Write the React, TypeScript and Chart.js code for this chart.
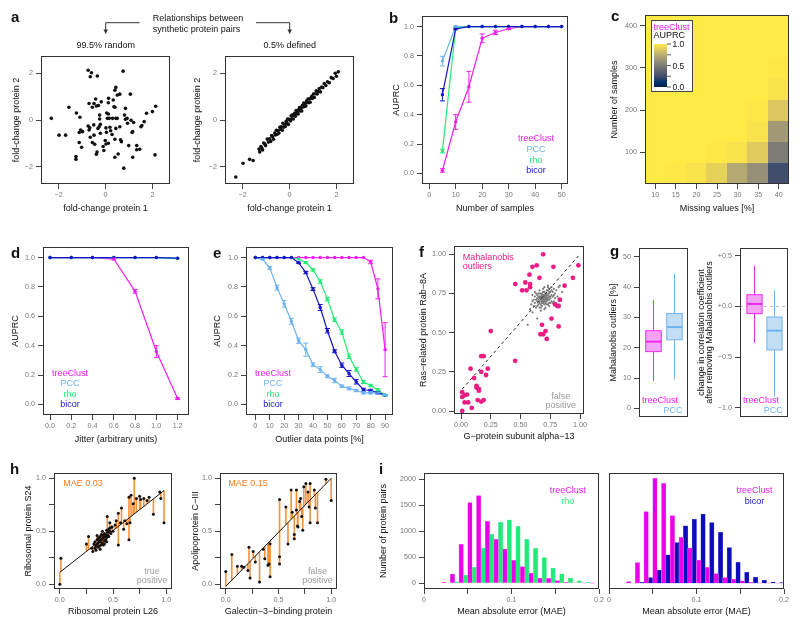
import React, { useEffect, useRef } from "react";
import { Chart, registerables } from "chart.js";
Chart.register(...registerables);

// ---------------- data ----------------
const aRandom: number[][] = [
  [-0.74, 2.14], [-0.6, 2.03], [-0.65, 1.86], [-0.35, 1.89], [0.75, 2.1], [-2.31, 0.07], [-1.98, -0.65], [-1.7, -0.65],
  [-1.56, 0.55], [-1.24, 0.3], [-1.09, 0.12], [-1.26, -1.57], [-1.26, -1.69], [-1.12, -0.97], [-1.02, -1.17], [-1.12, -0.54],
  [-1.06, -0.43], [-0.98, -0.5], [-0.74, -0.26], [-0.7, -0.43], [-0.65, -0.74], [-0.67, -0.33], [-0.7, 0.71], [-0.56, 0.55],
  [-0.49, 0.71], [-0.42, 0.9], [-0.39, 0.6], [-0.5, -0.21], [-0.49, -0.65], [-0.56, -0.97], [-0.46, -1.04], [-0.36, -1.38],
  [-0.39, -1.47], [-0.32, -0.36], [-0.27, -0.29], [-0.22, -0.19], [-0.25, 0.04], [-0.22, -0.57], [-0.25, 0.21], [-0.18, 0.78],
  [-0.1, -1.14], [-0.07, -1.31], [0.02, -1.03], [-0.01, -0.88], [0.04, -0.53], [0.02, -0.34], [0.08, 0.07], [0.12, 0.26],
  [0.16, 0.07], [0.19, -0.31], [0.22, -0.46], [0.13, 0.93], [0.12, 0.74], [0.3, 0.07], [0.33, 0.86], [0.4, 0.55],
  [0.44, 0.07], [0.5, 0.07], [0.4, -0.83], [0.44, -0.36], [0.5, 1.07], [0.4, 1.28], [0.44, 1.4], [0.61, 1.11],
  [0.36, 0.57], [0.61, -0.29], [0.64, -0.85], [0.68, -0.93], [0.4, -1.6], [0.54, -1.46], [0.78, -2.07], [0.12, -1.0],
  [0.85, 0.5], [0.81, 0.21], [0.85, 0.03], [0.92, 0.07], [0.94, -0.14], [0.99, -1.1], [1.06, 1.11], [1.09, -0.01],
  [1.13, -0.54], [1.16, -1.6], [1.2, -0.11], [1.33, -1.1], [1.33, -1.28], [1.51, -0.29], [1.55, -0.24], [1.46, -1.26],
  [1.65, -0.07], [1.75, 0.29], [2.0, 0.36], [2.14, 0.59], [2.11, -1.5], [1.16, -0.5], [-0.3, 0.62], [0.28, -0.62], [0.05, 0.3],
];
const aDefined: number[][] = [
  [-2.29, -2.45], [-1.98, -1.86], [-1.7, -1.69], [-1.55, -1.74], [-1.3, -1.25], [-1.27, -1.37], [-1.22, -1.14], [-1.18, -1.21],
  [-1.15, -1.29], [-1.1, -0.99], [-1.05, -1.03], [-1.02, -1.1], [-0.95, -0.82], [-0.9, -0.95], [-0.85, -0.81], [-0.8, -0.92],
  [-0.76, -0.67], [-0.72, -0.72], [-0.68, -0.83], [-0.63, -0.56], [-0.6, -0.64], [-0.56, -0.44], [-0.52, -0.61], [-0.48, -0.45],
  [-0.45, -0.56], [-0.41, -0.31], [-0.38, -0.4], [-0.35, -0.29], [-0.31, -0.44], [-0.28, -0.14], [-0.25, -0.31], [-0.21, -0.2],
  [-0.18, -0.28], [-0.14, -0.06], [-0.11, -0.14], [-0.08, 0.04], [-0.05, -0.19], [-0.02, 0.03], [0.01, 0.01], [0.04, -0.04],
  [0.07, 0.18], [0.1, 0.05], [0.13, 0.22], [0.16, 0.04], [0.19, 0.21], [0.22, 0.29], [0.25, 0.16], [0.28, 0.41],
  [0.31, 0.27], [0.34, 0.34], [0.37, 0.26], [0.4, 0.46], [0.43, 0.53], [0.46, 0.39], [0.49, 0.52], [0.52, 0.39],
  [0.55, 0.63], [0.58, 0.56], [0.61, 0.73], [0.64, 0.58], [0.67, 0.71], [0.7, 0.6], [0.73, 0.82], [0.76, 0.75],
  [0.79, 0.9], [0.82, 0.74], [0.85, 0.9], [0.88, 0.76], [0.91, 0.93], [0.95, 1.02], [0.98, 0.93], [1.02, 1.12],
  [1.06, 0.97], [1.1, 1.13], [1.14, 1.26], [1.18, 1.12], [1.22, 1.22], [1.27, 1.35], [1.32, 1.21], [1.37, 1.42],
  [1.42, 1.39], [1.48, 1.57], [1.55, 1.48], [1.62, 1.64], [1.7, 1.6], [1.78, 1.82], [1.86, 1.78], [1.95, 2.01],
  [2.0, 1.88], [2.08, 2.07],
];

const xB = [5, 10, 15, 20, 25, 30, 35, 40, 45, 50];
const treeB = [0.02, 0.35, 0.59, 0.92, 0.96, 0.985, 1, 1, 1, 1];
const treeBErr = [0.012, 0.05, 0.105, 0.03, 0.015, 0.005, 0, 0, 0, 0];
const pccB = [0.765, 1, 1, 1, 1, 1, 1, 1, 1, 1];
const pccBErr = [0.033, 0.004, 0, 0, 0, 0, 0, 0, 0, 0];
const rhoB = [0.152, 0.99, 1, 1, 1, 1, 1, 1, 1, 1];
const rhoBErr = [0.012, 0, 0, 0, 0, 0, 0, 0, 0, 0];
const bicorB = [0.536, 0.984, 1, 1, 1, 1, 1, 1, 1, 1];
const bicorBErr = [0.042, 0.005, 0, 0, 0, 0, 0, 0, 0, 0];

const heatCols = [10, 15, 20, 25, 30, 35, 40];
const heatRows = [50, 100, 150, 200, 250, 300, 350, 400];
const heatVals = [
  [1.0, 0.99, 0.97, 0.9, 0.72, 0.6, 0.25],
  [1.0, 1.0, 1.0, 0.99, 0.97, 0.87, 0.5],
  [1.0, 1.0, 1.0, 1.0, 1.0, 0.97, 0.65],
  [1.0, 1.0, 1.0, 1.0, 1.0, 0.99, 0.86],
  [1.0, 1.0, 1.0, 1.0, 1.0, 1.0, 0.97],
  [1.0, 1.0, 1.0, 1.0, 1.0, 1.0, 0.99],
  [1.0, 1.0, 1.0, 1.0, 1.0, 1.0, 1.0],
  [1.0, 1.0, 1.0, 1.0, 1.0, 1.0, 1.0],
];

const xD = [0, 0.2, 0.4, 0.6, 0.8, 1.0, 1.2];
const treeD = [1, 1, 1, 0.99, 0.77, 0.36, 0.04];
const treeDErr = [0, 0, 0, 0.006, 0.012, 0.04, 0.006];
const pccD = [1, 1, 1, 1, 1, 1, 0.995];
const rhoD = [1, 1, 1, 1, 1, 1, 0.993];
const bicorD = [1, 1, 1, 1, 1, 1, 0.996];

const xE = [0, 5, 10, 15, 20, 25, 30, 35, 40, 45, 50, 55, 60, 65, 70, 75, 80, 85, 90];
const treeE = [1, 1, 1, 1, 1, 1, 1, 1, 1, 1, 1, 1, 1, 1, 1, 1, 0.97, 0.787, 0.373];
const treeEErr = [0, 0, 0, 0, 0, 0, 0, 0, 0, 0, 0, 0, 0, 0, 0, 0, 0.012, 0.068, 0.184];
const pccE = [1, 0.99, 0.93, 0.796, 0.685, 0.566, 0.434, 0.373, 0.271, 0.237, 0.192, 0.163, 0.124, 0.109, 0.095, 0.079, 0.079, 0.077, 0.063];
const pccEErr = [0, 0.004, 0.01, 0.016, 0.022, 0.02, 0.018, 0.045, 0.012, 0.02, 0.01, 0.015, 0.008, 0.01, 0.008, 0.008, 0.008, 0.006, 0.004];
const rhoE = [1, 1, 1, 1, 1, 1, 0.99, 0.966, 0.916, 0.837, 0.717, 0.577, 0.493, 0.328, 0.238, 0.152, 0.129, 0.1, 0.063];
const rhoEErr = [0, 0, 0, 0, 0, 0, 0, 0.005, 0.008, 0.012, 0.012, 0.012, 0.015, 0.015, 0.012, 0.01, 0.008, 0.008, 0.004];
const bicorE = [1, 1, 1, 1, 1, 1, 0.965, 0.898, 0.785, 0.66, 0.502, 0.362, 0.267, 0.21, 0.154, 0.1, 0.095, 0.08, 0.063];
const bicorEErr = [0, 0, 0, 0, 0, 0, 0.005, 0.008, 0.01, 0.02, 0.015, 0.01, 0.015, 0.02, 0.015, 0.01, 0.008, 0.008, 0.004];

const fPink: number[][] = [
  [0.69, 1.0], [0.986, 0.93], [0.636, 0.93], [0.6, 0.92], [0.776, 0.92], [0.575, 0.87], [0.659, 0.85], [0.94, 0.85],
  [0.54, 0.82], [0.456, 0.81], [0.58, 0.81], [0.87, 0.8], [0.513, 0.77], [0.55, 0.77], [0.58, 0.79], [0.83, 0.71],
  [0.79, 0.68], [0.81, 0.67], [0.82, 0.67], [0.76, 0.59], [0.68, 0.55], [0.82, 0.54], [0.667, 0.49], [0.69, 0.49],
  [0.71, 0.51], [0.72, 0.46], [0.25, 0.51], [0.455, 0.32], [0.19, 0.35], [0.17, 0.35], [0.225, 0.27], [0.17, 0.25],
  [0.21, 0.23], [0.08, 0.27], [0.11, 0.21], [0.13, 0.16], [0.13, 0.15], [0.15, 0.14], [0.15, 0.13], [0.01, 0.12],
  [0.05, 0.105], [0.03, 0.1], [0.01, 0.09], [0.14, 0.07], [0.17, 0.06], [0.19, 0.07], [0.03, 0.055], [0.06, 0.055],
  [0.09, 0.02], [0.01, 0.0],
];
const fGray: number[][] = [
  [0.7, 0.72], [0.68, 0.71], [0.72, 0.73], [0.66, 0.7], [0.74, 0.75], [0.69, 0.74], [0.71, 0.69], [0.67, 0.73], [0.73, 0.71],
  [0.65, 0.68], [0.75, 0.72], [0.7, 0.76], [0.64, 0.72], [0.76, 0.7], [0.68, 0.67], [0.72, 0.77], [0.62, 0.69], [0.78, 0.74],
  [0.69, 0.7], [0.71, 0.73], [0.67, 0.75], [0.73, 0.68], [0.66, 0.73], [0.74, 0.78], [0.7, 0.68], [0.63, 0.71], [0.77, 0.76],
  [0.68, 0.72], [0.72, 0.7], [0.65, 0.75], [0.75, 0.69], [0.69, 0.78], [0.71, 0.66], [0.6, 0.7], [0.8, 0.77], [0.66, 0.66],
  [0.74, 0.73], [0.7, 0.74], [0.68, 0.69], [0.72, 0.75], [0.64, 0.74], [0.76, 0.79], [0.67, 0.71], [0.73, 0.74], [0.61, 0.67],
  [0.79, 0.72], [0.69, 0.72], [0.71, 0.71], [0.66, 0.77], [0.74, 0.67], [0.7, 0.7], [0.68, 0.75], [0.72, 0.72], [0.63, 0.66],
  [0.77, 0.73], [0.65, 0.71], [0.75, 0.76], [0.69, 0.69], [0.71, 0.75], [0.67, 0.68], [0.73, 0.77], [0.62, 0.73], [0.78, 0.7],
  [0.7, 0.73], [0.68, 0.74], [0.72, 0.68], [0.66, 0.72], [0.74, 0.71], [0.69, 0.76], [0.71, 0.7], [0.64, 0.7], [0.76, 0.74],
  [0.58, 0.65], [0.82, 0.79], [0.67, 0.64], [0.73, 0.8], [0.6, 0.74], [0.8, 0.68], [0.7, 0.65], [0.7, 0.79], [0.65, 0.73],
  [0.75, 0.73], [0.68, 0.7], [0.72, 0.74], [0.63, 0.75], [0.77, 0.69], [0.66, 0.69], [0.74, 0.76], [0.69, 0.71], [0.71, 0.74],
  [0.67, 0.72], [0.73, 0.72], [0.61, 0.71], [0.79, 0.75], [0.7, 0.71], [0.69, 0.73], [0.71, 0.72], [0.68, 0.73], [0.72, 0.71],
  [0.64, 0.67], [0.76, 0.77], [0.66, 0.75], [0.74, 0.69], [0.62, 0.76], [0.78, 0.78], [0.67, 0.66], [0.73, 0.79], [0.59, 0.68],
  [0.81, 0.73], [0.56, 0.55], [0.64, 0.59], [0.83, 0.8], [0.6, 0.63], [0.85, 0.76],
];
const fFit = [0.131, 0.871];

const gOutTree = [9.0, 18.7, 22.0, 25.6, 35.7];
const gOutPcc = [9.6, 22.6, 26.8, 31.3, 44.3];
const gDeltaTree = [-0.36, -0.072, 0.024, 0.115, 0.4];
const gDeltaPcc = [-0.89, -0.43, -0.24, -0.105, 0.155];

const hLeft: number[][] = [
  [0.0, 0.0], [0.01, 0.245], [0.25, 0.38], [0.27, 0.45], [0.3, 0.34], [0.31, 0.31],
  [0.32, 0.38], [0.33, 0.4], [0.34, 0.36], [0.35, 0.42], [0.36, 0.39], [0.37, 0.44], [0.38, 0.4], [0.39, 0.37], [0.4, 0.43],
  [0.41, 0.46], [0.42, 0.41], [0.43, 0.47], [0.44, 0.44], [0.45, 0.49], [0.46, 0.45], [0.47, 0.5], [0.48, 0.48], [0.33, 0.34],
  [0.35, 0.38], [0.36, 0.43], [0.37, 0.36], [0.38, 0.45], [0.39, 0.42], [0.4, 0.39], [0.41, 0.44], [0.42, 0.48], [0.43, 0.42],
  [0.44, 0.51], [0.45, 0.46], [0.46, 0.52], [0.34, 0.32], [0.36, 0.35], [0.39, 0.47], [0.42, 0.38], [0.44, 0.4], [0.47, 0.53],
  [0.5, 0.5], [0.49, 0.54], [0.38, 0.33], [0.4, 0.5], [0.35, 0.46], [0.41, 0.37], [0.37, 0.41], [0.43, 0.45],
  [0.446, 0.64], [0.49, 0.54], [0.55, 0.37], [0.55, 0.67], [0.58, 0.72], [0.61, 0.6], [0.66, 0.58], [0.65, 0.42], [0.67, 0.84],
  [0.65, 0.82], [0.7, 1.0], [0.69, 0.76], [0.72, 0.81], [0.76, 0.8], [0.79, 0.81], [0.75, 0.83], [0.82, 0.79], [0.88, 0.66],
  [0.94, 0.87], [0.95, 0.81], [0.98, 0.58], [0.53, 0.6], [0.6, 0.52], [0.63, 0.57], [0.52, 0.56], [0.57, 0.58], [0.84, 0.82],
  [0.47, 0.58],
];
const hLeftFit = [0.113, 0.787];
const hRight: number[][] = [
  [0.0, 0.12], [0.057, 0.28], [0.11, 0.17], [0.15, 0.17], [0.17, 0.16], [0.21, 0.13], [0.22, 0.35], [0.23, 0.06], [0.26, 0.31],
  [0.28, 0.21], [0.32, 0.02], [0.355, 0.33], [0.37, 0.24], [0.4, 0.18], [0.41, 0.19], [0.42, 0.07], [0.42, 0.38], [0.51, 0.8],
  [0.51, 0.19], [0.51, 0.26], [0.57, 0.73], [0.59, 0.38], [0.62, 0.89], [0.63, 0.68], [0.65, 0.47], [0.65, 0.43], [0.67, 0.89],
  [0.68, 0.55], [0.67, 0.7], [0.7, 0.78], [0.71, 0.81], [0.72, 0.64], [0.73, 0.51], [0.685, 0.54], [0.74, 0.92], [0.76, 0.95],
  [0.78, 0.87], [0.79, 0.73], [0.8, 0.95], [0.8, 0.58], [0.84, 0.89], [0.85, 0.72], [0.87, 0.58], [0.95, 0.99], [1.0, 0.79],
];
const hRightFit = [-0.02, 1.02];

const maeBins = [0, 0.01, 0.02, 0.03, 0.04, 0.05, 0.06, 0.07, 0.08, 0.09, 0.1, 0.11, 0.12, 0.13, 0.14, 0.15, 0.16, 0.17, 0.18, 0.19];
const iTreeL = [0, 0, 19, 179, 750, 1550, 1685, 1190, 845, 660, 442, 320, 198, 102, 96, 50, 20, 10, 5, 3];
const iRho = [0, 0, 0, 30, 160, 305, 679, 940, 1172, 1218, 1095, 845, 672, 493, 290, 180, 100, 45, 20, 10];
const iTreeR = [0, 0, 31, 397, 1378, 2019, 1923, 1301, 885, 679, 448, 308, 185, 109, 83, 45, 19, 10, 5, 3];
const iBicor = [0, 0, 0, 19, 109, 256, 545, 782, 1103, 1231, 1333, 1167, 981, 686, 404, 212, 115, 63, 25, 12];

// tick values
const ticksA = [-2, 0, 2];
const ticksAUPRC = [0, 0.2, 0.4, 0.6, 0.8, 1.0];
const ticksSamplesB = [0, 10, 20, 30, 40, 50];
const ticksMissing = [10, 15, 20, 25, 30, 35, 40];
const ticksSamplesC = [100, 200, 300, 400];
const ticksJitter = [0, 0.2, 0.4, 0.6, 0.8, 1.0, 1.2];
const ticksOutlier = [0, 10, 20, 30, 40, 50, 60, 70, 80, 90];
const ticksQuarter = [0, 0.25, 0.5, 0.75, 1];
const ticksPct = [0, 10, 20, 30, 40, 50];
const ticksDelta = [-1, -0.5, 0, 0.5];
const ticksMAE = [0, 0.05, 0.1, 0.15, 0.2];
const ticksPairs = [0, 500, 1000, 1500, 2000];

// ---------------- style ----------------
const FONT = "'Liberation Sans', Arial, Helvetica, sans-serif";
const TICK_SIZE = 7.2;
const TITLE_SIZE = 9;
const LH = TITLE_SIZE * 1.2;
const PAD = 10;
const TICK_COLOR = "#777";
const MAG = "#F01EF0";
const PCCC = "#6DB3F0";
const RHOC = "#26EA76";
const BIC = "#1616C4";
const PINK = "#EB1C84";
const ORANGE = "#F27A1E";
const GRAYTXT = "#9A9A9A";
const CIVIDIS = ["#00204D", "#00336F", "#39486B", "#575C6D", "#707173", "#8A8779", "#A69D75", "#C4B56C", "#E4CF5B", "#FFEA46"];

function cividis(v: number) {
  const t = Math.max(0, Math.min(1, v)) * (CIVIDIS.length - 1);
  const i = Math.min(Math.floor(t), CIVIDIS.length - 2);
  const f = t - i;
  const a = CIVIDIS[i], b = CIVIDIS[i + 1];
  const c = [1, 3, 5].map((k) => {
    const x = parseInt(a.slice(k, k + 2), 16), y = parseInt(b.slice(k, k + 2), 16);
    return Math.round(x + (y - x) * f);
  });
  return `rgb(${c[0]},${c[1]},${c[2]})`;
}

const f1 = (v: number) => v.toFixed(1);
const f2 = (v: number) => v.toFixed(2);
const fMinus = (v: number) => (v < 0 ? "\u2212" + Math.abs(v) : String(v));
const fHalf = (v: number) => (Math.abs(v * 2 - Math.round(v * 2)) < 1e-9 ? v.toFixed(1) : "");
const fMae = (v: number) => (Math.abs(v * 10 - Math.round(v * 10)) < 1e-9 ? (v === 0 ? "0" : String(+v.toFixed(1))) : "");
const fDelta = (v: number) => (v < 0 ? "\u2212" : "+") + Math.abs(v).toFixed(1);

function ax(o: any): any {
  const horiz = o.pos === "bottom";
  if (o.hidden) return { type: "linear", position: o.pos, min: o.min, max: o.max, display: false, offset: false };
  return {
    type: "linear",
    position: o.pos,
    min: o.min,
    max: o.max,
    offset: false,
    afterBuildTicks: (s: any) => {
      s.ticks = (o.ticks || []).map((v: number) => ({ value: v }));
    },
    afterFit: (s: any) => {
      if (horiz) s.height = o.size;
      else s.width = o.size;
    },
    ticks: {
      autoSkip: false,
      maxRotation: 0,
      minRotation: 0,
      padding: horiz ? 2 : 3,
      color: TICK_COLOR,
      font: { family: FONT, size: TICK_SIZE },
      callback: (v: number) => (o.fmt ? o.fmt(v) : String(v)),
    },
    grid: { display: true, offset: false, drawOnChartArea: false, drawTicks: true, tickLength: 5, tickColor: "#444", tickWidth: 1 },
    border: { display: false },
    title: {
      display: !!o.title,
      text: o.title,
      color: "#111",
      padding: 0,
      font: { family: FONT, size: TITLE_SIZE, lineHeight: o.lh || 1.2 },
    },
  };
}

// ---------------- plugins ----------------
const framePlugin = {
  id: "frame",
  afterDraw(chart: any) {
    const { ctx, chartArea: a } = chart;
    ctx.save();
    ctx.strokeStyle = "#333";
    ctx.lineWidth = 1;
    ctx.strokeRect(Math.round(a.left) + 0.5, Math.round(a.top) + 0.5, Math.round(a.right - a.left) - 1, Math.round(a.bottom - a.top) - 1);
    ctx.restore();
  },
};

const errPlugin = {
  id: "errbars",
  afterDatasetsDraw(chart: any) {
    const { ctx, scales } = chart;
    const x = scales.x, y = scales.y;
    chart.data.datasets.forEach((ds: any) => {
      if (!ds.errs) return;
      ctx.save();
      ctx.strokeStyle = ds.borderColor;
      ctx.lineWidth = 1;
      ds.data.forEach((p: any, i: number) => {
        const e = ds.errs[i];
        if (!e) return;
        const px = x.getPixelForValue(p.x);
        const y1 = y.getPixelForValue(p.y - e), y2 = y.getPixelForValue(p.y + e);
        ctx.beginPath();
        ctx.moveTo(px, y1); ctx.lineTo(px, y2);
        ctx.moveTo(px - 2.5, y1); ctx.lineTo(px + 2.5, y1);
        ctx.moveTo(px - 2.5, y2); ctx.lineTo(px + 2.5, y2);
        ctx.stroke();
      });
      ctx.restore();
    });
  },
};

const heatPlugin = {
  id: "heat",
  beforeDatasetsDraw(chart: any) {
    const { ctx, scales } = chart;
    const x = scales.x, y = scales.y;
    const dc = (heatCols[1] - heatCols[0]) / 2, dr = (heatRows[1] - heatRows[0]) / 2;
    heatRows.forEach((r, i) =>
      heatCols.forEach((c, j) => {
        const x0 = Math.floor(x.getPixelForValue(c - dc)), x1 = Math.ceil(x.getPixelForValue(c + dc));
        const y0 = Math.floor(y.getPixelForValue(r + dr)), y1 = Math.ceil(y.getPixelForValue(r - dr));
        ctx.fillStyle = cividis(heatVals[i][j]);
        ctx.fillRect(x0, y0, x1 - x0, y1 - y0);
      })
    );
  },
};

const BOX_HALF = 0.38;
function boxPlugin(groups: any[], zeroLine: boolean) {
  return {
    id: "boxes",
    beforeDatasetsDraw(chart: any) {
      const { ctx, scales, chartArea: a } = chart;
      const x = scales.x, y = scales.y;
      ctx.save();
      if (zeroLine) {
        ctx.strokeStyle = "#BDBDBD";
        ctx.setLineDash([3, 3]);
        ctx.lineWidth = 1;
        const y0 = Math.round(y.getPixelForValue(0)) + 0.5;
        ctx.beginPath(); ctx.moveTo(a.left, y0); ctx.lineTo(a.right, y0); ctx.stroke();
        ctx.setLineDash([]);
      }
      groups.forEach((g, k) => {
        const [lo, q1, med, q3, hi] = g.stats;
        const cx = Math.round(x.getPixelForValue(k + 1)) + 0.5;
        const hw = x.getPixelForValue(k + 1 + BOX_HALF) - x.getPixelForValue(k + 1);
        ctx.strokeStyle = g.stroke;
        ctx.lineWidth = 1;
        ctx.beginPath();
        ctx.moveTo(cx, y.getPixelForValue(lo)); ctx.lineTo(cx, y.getPixelForValue(q1));
        ctx.moveTo(cx, y.getPixelForValue(q3)); ctx.lineTo(cx, y.getPixelForValue(hi));
        ctx.stroke();
        const top = y.getPixelForValue(q3), bot = y.getPixelForValue(q1);
        ctx.fillStyle = g.fill;
        ctx.fillRect(cx - hw, top, 2 * hw, bot - top);
        ctx.strokeRect(cx - hw, top, 2 * hw, bot - top);
        ctx.lineWidth = 2;
        const ym = y.getPixelForValue(med);
        ctx.beginPath(); ctx.moveTo(cx - hw, ym); ctx.lineTo(cx + hw, ym); ctx.stroke();
      });
      ctx.restore();
    },
  };
}

const segPlugin = {
  id: "segments",
  beforeDatasetsDraw(chart: any) {
    const { ctx, scales } = chart;
    const x = scales.x, y = scales.y;
    chart.data.datasets.forEach((ds: any) => {
      if (!ds.fit) return;
      const [a, b] = ds.fit;
      ctx.save();
      ctx.strokeStyle = "#F7913A";
      ctx.lineWidth = 1.6;
      ctx.beginPath();
      ds.data.forEach((p: any) => {
        const px = x.getPixelForValue(p.x);
        ctx.moveTo(px, y.getPixelForValue(p.y));
        ctx.lineTo(px, y.getPixelForValue(a + b * p.x));
      });
      ctx.stroke();
      ctx.restore();
    });
  },
};

// ---------------- helpers ----------------
function series(xs: number[], ys: number[], color: string, errs?: number[]) {
  return {
    data: xs.map((x, i) => ({ x, y: ys[i] })),
    showLine: true,
    borderColor: color,
    backgroundColor: color,
    borderWidth: 1.2,
    pointRadius: 1.7,
    pointBorderWidth: 0,
    pointBackgroundColor: color,
    errs,
  };
}
function dots(pts: number[][], color: string, r: number, extra: any = {}) {
  return { data: pts.map(([x, y]) => ({ x, y })), pointRadius: r, pointBorderWidth: 0, pointBackgroundColor: color, backgroundColor: color, ...extra };
}
function fitLine(pts: number[][], fit: number[], color: string, dash?: number[]) {
  const xs = pts.map((p) => p[0]);
  const lo = Math.min(...xs), hi = Math.max(...xs);
  return {
    data: [{ x: lo, y: fit[0] + fit[1] * lo }, { x: hi, y: fit[0] + fit[1] * hi }],
    showLine: true, pointRadius: 0, borderColor: color, borderWidth: 1, borderDash: dash || [],
  };
}

function ChartBox({ frame, yGap, xGap, ylh, make }: any) {
  const ref = useRef<HTMLCanvasElement | null>(null);
  const [L, T, R, B] = frame;
  const yW = yGap == null ? 0 : Math.round(yGap + (ylh ?? LH) / 2);
  const xH = xGap == null ? 0 : Math.round(xGap + LH / 2);
  const left = L - PAD - yW;
  const top = T - PAD;
  const w = R - L + yW + 2 * PAD;
  const h = B - T + xH + 2 * PAD;
  useEffect(() => {
    if (!ref.current) return;
    const cfg = make(yW, xH);
    const chart = new Chart(ref.current, {
      type: cfg.type,
      data: cfg.data,
      options: {
        responsive: false,
        maintainAspectRatio: false,
        animation: false,
        events: [],
        layout: { padding: PAD },
        ...(cfg.options || {}),
        plugins: { legend: { display: false }, tooltip: { enabled: false } },
      },
      plugins: [...(cfg.plugins || []), framePlugin],
    } as any);
    return () => chart.destroy();
  }, []);
  return <canvas ref={ref} width={w} height={h} style={{ position: "absolute", left, top, width: w, height: h }} />;
}

const Txt = ({ x, y, c = "#111", s = 9, a = "start", b = false, children }: any) => (
  <text x={x} y={y} fill={c} fontSize={s} textAnchor={a} fontWeight={b ? "bold" : "normal"} fontFamily={FONT}>
    {children}
  </text>
);
const Stack = ({ x, y, dy, items }: any) => (
  <>
    {items.map((it: any, i: number) => (
      <Txt key={i} x={x} y={y + i * dy} c={it[1]} a="middle">
        {it[0]}
      </Txt>
    ))}
  </>
);

const yAUPRC = (yW: number) => ax({ pos: "left", min: -0.072, max: 1.072, ticks: ticksAUPRC, fmt: f1, title: "AUPRC", size: yW });
const barDs = (data: number[], fill: string, edge: string) => ({
  data, backgroundColor: fill, borderColor: edge, borderWidth: 0.5, categoryPercentage: 1, barPercentage: 1, xAxisID: "x", yAxisID: "y",
});

export default function App() {
  const legend4 = [["treeClust", MAG], ["PCC", PCCC], ["rho", RHOC], ["bicor", BIC]];
  return (
    <div style={{ position: "absolute", left: 0, top: 0, width: 800, height: 627, background: "#fff", overflow: "hidden" }}>
      {/* a left */}
      <ChartBox frame={[41, 56, 170, 184]} yGap={25} xGap={25} make={(yW: number, xH: number) => ({
        type: "scatter",
        data: { datasets: [dots(aRandom, "#111", 1.8)] },
        options: { scales: {
          x: ax({ pos: "bottom", min: -2.75, max: 2.75, ticks: ticksA, fmt: fMinus, title: "fold-change protein 1", size: xH }),
          y: ax({ pos: "left", min: -2.75, max: 2.75, ticks: ticksA, fmt: fMinus, title: "fold-change protein 2", size: yW }),
        } },
      })} />
      {/* a right */}
      <ChartBox frame={[225, 56, 354, 184]} yGap={28} xGap={25} make={(yW: number, xH: number) => ({
        type: "scatter",
        data: { datasets: [dots(aDefined, "#111", 1.8)] },
        options: { scales: {
          x: ax({ pos: "bottom", min: -2.75, max: 2.75, ticks: ticksA, fmt: fMinus, title: "fold-change protein 1", size: xH }),
          y: ax({ pos: "left", min: -2.75, max: 2.75, ticks: ticksA, fmt: fMinus, title: "fold-change protein 2", size: yW }),
        } },
      })} />
      {/* b */}
      <ChartBox frame={[422, 16, 568, 184]} yGap={26} xGap={25} make={(yW: number, xH: number) => ({
        type: "scatter",
        data: { datasets: [
          series(xB, bicorB, BIC, bicorBErr), series(xB, rhoB, RHOC, rhoBErr), series(xB, pccB, PCCC, pccBErr), series(xB, treeB, MAG, treeBErr),
        ] },
        options: { scales: {
          x: ax({ pos: "bottom", min: -2.7, max: 52.4, ticks: ticksSamplesB, title: "Number of samples", size: xH }),
          y: yAUPRC(yW),
        } },
        plugins: [errPlugin],
      })} />
      {/* c */}
      <ChartBox frame={[645, 15, 789, 184]} yGap={31} xGap={25} make={(yW: number, xH: number) => ({
        type: "scatter",
        data: { datasets: [] },
        options: { scales: {
          x: ax({ pos: "bottom", min: 7.5, max: 42.5, ticks: ticksMissing, title: "Missing values [%]", size: xH }),
          y: ax({ pos: "left", min: 25, max: 425, ticks: ticksSamplesC, title: "Number of samples", size: yW }),
        } },
        plugins: [heatPlugin],
      })} />
      {/* d */}
      <ChartBox frame={[43, 247, 189, 415]} yGap={28} xGap={25} make={(yW: number, xH: number) => ({
        type: "scatter",
        data: { datasets: [
          series(xD, bicorD, BIC), series(xD, rhoD, RHOC), series(xD, pccD, PCCC), series(xD, treeD, MAG, treeDErr),
        ] },
        options: { scales: {
          x: ax({ pos: "bottom", min: -0.066, max: 1.307, ticks: ticksJitter, fmt: f1, title: "Jitter (arbitrary units)", size: xH }),
          y: yAUPRC(yW),
        } },
        plugins: [errPlugin],
      })} />
      {/* e */}
      <ChartBox frame={[246, 247, 393, 415]} yGap={28.5} xGap={25} make={(yW: number, xH: number) => ({
        type: "scatter",
        data: { datasets: [
          series(xE, bicorE, BIC, bicorEErr), series(xE, rhoE, RHOC, rhoEErr), series(xE, pccE, PCCC, pccEErr), series(xE, treeE, MAG, treeEErr),
        ] },
        options: { scales: {
          x: ax({ pos: "bottom", min: -6.5, max: 95.5, ticks: ticksOutlier, title: "Outlier data points [%]", size: xH }),
          y: yAUPRC(yW),
        } },
        plugins: [errPlugin],
      })} />
      {/* f */}
      <ChartBox frame={[454, 246, 584, 414]} yGap={30.5} xGap={23} make={(yW: number, xH: number) => ({
        type: "scatter",
        data: { datasets: [
          dots(fPink, PINK, 2.4),
          fitLine(fPink, fFit, "#222", [3, 3]),
          dots(fGray, "#7A7A7A", 1.1),
        ] },
        options: { scales: {
          x: ax({ pos: "bottom", min: -0.059, max: 1.033, ticks: ticksQuarter, fmt: f2, title: "G\u2212protein subunit alpha\u221213", size: xH }),
          y: ax({ pos: "left", min: -0.019, max: 1.053, ticks: ticksQuarter, fmt: f2, title: "Ras\u2212related protein Rab\u22128A", size: yW }),
        } },
      })} />
      {/* g left */}
      <ChartBox frame={[639, 248, 688, 417]} yGap={26} make={(yW: number) => ({
        type: "scatter",
        data: { datasets: [] },
        options: { scales: {
          x: ax({ pos: "bottom", min: 0.3, max: 2.7, hidden: true }),
          y: ax({ pos: "left", min: -2.87, max: 52.9, ticks: ticksPct, title: "Mahalanobis outliers [%]", size: yW }),
        } },
        plugins: [boxPlugin([
          { stats: gOutTree, fill: "#F4A4F4", stroke: "#EC2CEC" },
          { stats: gOutPcc, fill: "#C2DEF7", stroke: "#6FB3EE" },
        ], false)],
      })} />
      {/* g right */}
      <ChartBox frame={[740, 248, 788, 417]} yGap={38.3} ylh={8.55} make={(yW: number) => ({
        type: "scatter",
        data: { datasets: [] },
        options: { scales: {
          x: ax({ pos: "bottom", min: 0.3, max: 2.7, hidden: true }),
          y: ax({ pos: "left", min: -1.092, max: 0.576, ticks: ticksDelta, fmt: fDelta, lh: 0.95,
            title: ["change in correlation coefficient", "after removing Mahalanobis outliers"], size: yW }),
        } },
        plugins: [boxPlugin([
          { stats: gDeltaTree, fill: "#F4A4F4", stroke: "#EC2CEC" },
          { stats: gDeltaPcc, fill: "#C2DEF7", stroke: "#6FB3EE" },
        ], true)],
      })} />
      {/* h left */}
      <ChartBox frame={[54, 473, 172, 589]} yGap={26} xGap={22.5} make={(yW: number, xH: number) => ({
        type: "scatter",
        data: { datasets: [
          { ...dots(hLeft, "#111", 1.5), fit: hLeftFit },
          fitLine(hLeft, hLeftFit, "#111"),
        ] },
        options: { scales: {
          x: ax({ pos: "bottom", min: -0.055, max: 1.055, ticks: ticksQuarter, fmt: fHalf, title: "Ribosomal protein L26", size: xH }),
          y: ax({ pos: "left", min: -0.045, max: 1.05, ticks: ticksQuarter, fmt: fHalf, title: "Ribosomal protein S24", size: yW }),
        } },
        plugins: [segPlugin],
      })} />
      {/* h right */}
      <ChartBox frame={[220, 473, 337, 589]} yGap={25} xGap={22.5} make={(yW: number, xH: number) => ({
        type: "scatter",
        data: { datasets: [
          { ...dots(hRight, "#111", 1.5), fit: hRightFit },
          fitLine(hRight, hRightFit, "#111"),
        ] },
        options: { scales: {
          x: ax({ pos: "bottom", min: -0.055, max: 1.055, ticks: ticksQuarter, fmt: fHalf, title: "Galectin\u22123\u2212binding protein", size: xH }),
          y: ax({ pos: "left", min: -0.045, max: 1.05, ticks: ticksQuarter, fmt: fHalf, title: "Apolipoprotein C\u2212III", size: yW }),
        } },
        plugins: [segPlugin],
      })} />
      {/* i left */}
      <ChartBox frame={[424, 473, 599, 589]} yGap={41} xGap={22.7} make={(yW: number, xH: number) => ({
        type: "bar",
        data: { labels: maeBins, datasets: [barDs(iTreeL, "#E800E8", "#F27AF2"), barDs(iRho, "#1FEC78", "#7EF2AE")] },
        options: { scales: {
          x: { type: "category", display: false, offset: true },
          x2: ax({ pos: "bottom", min: 0, max: 0.2, ticks: ticksMAE, fmt: fMae, title: "Mean absolute error (MAE)", size: xH }),
          y: ax({ pos: "left", min: -110, max: 2121, ticks: ticksPairs, title: "Number of protein pairs", size: yW }),
        } },
      })} />
      {/* i right */}
      <ChartBox frame={[609, 473, 784, 589]} xGap={22.7} make={(yW: number, xH: number) => ({
        type: "bar",
        data: { labels: maeBins, datasets: [barDs(iTreeR, "#E800E8", "#F27AF2"), barDs(iBicor, "#0C0CB8", "#5A5AD8")] },
        options: { scales: {
          x: { type: "category", display: false, offset: true },
          x2: ax({ pos: "bottom", min: 0, max: 0.2, ticks: ticksMAE, fmt: fMae, title: "Mean absolute error (MAE)", size: xH }),
          y: { type: "linear", display: false, min: -110, max: 2121 },
        } },
      })} />

      <svg width={800} height={627} style={{ position: "absolute", left: 0, top: 0, pointerEvents: "none" }}>
        <defs>
          <linearGradient id="cvd" x1="0" y1="0" x2="0" y2="1">
            {CIVIDIS.map((c, i) => (
              <stop key={i} offset={1 - i / (CIVIDIS.length - 1)} stopColor={c} />
            )).reverse()}
          </linearGradient>
        </defs>
        {/* panel letters */}
        <Txt x={11} y={21.7} s={15} b>a</Txt>
        <Txt x={389} y={22.7} s={15} b>b</Txt>
        <Txt x={611} y={20.7} s={15} b>c</Txt>
        <Txt x={11} y={257.7} s={15} b>d</Txt>
        <Txt x={213} y={257.7} s={15} b>e</Txt>
        <Txt x={419} y={256.7} s={15} b>f</Txt>
        <Txt x={610} y={255.5} s={15} b>g</Txt>
        <Txt x={10} y={474.3} s={15} b>h</Txt>
        <Txt x={379} y={473.5} s={15} b>i</Txt>

        {/* a header */}
        <Txt x={152.7} y={20.7}>Relationships between</Txt>
        <Txt x={152.7} y={31.5}>synthetic protein pairs</Txt>
        <polyline points="139.5,22.7 105.7,22.7 105.7,30" fill="none" stroke="#333" strokeWidth={1} />
        <polygon points="103.5,29.5 107.9,29.5 105.7,34" fill="#333" />
        <polyline points="256,22.7 289.7,22.7 289.7,30" fill="none" stroke="#333" strokeWidth={1} />
        <polygon points="287.5,29.5 291.9,29.5 289.7,34" fill="#333" />
        <Txt x={105.7} y={48.3} a="middle">99.5% random</Txt>
        <Txt x={289.7} y={48.3} a="middle">0.5% defined</Txt>

        {/* b legend */}
        <Stack x={536} y={141} dy={10.8} items={legend4} />
        {/* c colour key */}
        <rect x={651.5} y={20.5} width={41} height={71} fill="#fff" stroke="#444" strokeWidth={1} />
        <Txt x={653.5} y={29.7} c={MAG}>treeClust</Txt>
        <Txt x={653.5} y={38}>AUPRC</Txt>
        <rect x={654} y={44} width={13} height={43} fill="url(#cvd)" />
        {[44, 54.75, 65.5, 76.25, 87].map((yy, i) => (
          <line key={i} x1={667} x2={671} y1={yy} y2={yy} stroke="#333" strokeWidth={0.8} />
        ))}
        <Txt x={672.5} y={47} s={8.5}>1.0</Txt>
        <Txt x={672.5} y={68.5} s={8.5}>0.5</Txt>
        <Txt x={672.5} y={90} s={8.5}>0.0</Txt>

        {/* d, e legends */}
        <Stack x={70} y={376} dy={10.4} items={legend4} />
        <Stack x={273} y={376} dy={10.4} items={legend4} />

        {/* f annotations */}
        <Txt x={462.7} y={260} c={PINK}>Mahalanobis</Txt>
        <Txt x={462.7} y={269.3} c={PINK}>outliers</Txt>
        <Txt x={560.8} y={399.3} c={GRAYTXT} a="middle">false</Txt>
        <Txt x={560.8} y={408} c={GRAYTXT} a="middle">positive</Txt>

        {/* g labels */}
        <Txt x={660} y={402.7} c={MAG} a="middle">treeClust</Txt>
        <Txt x={673} y={413.3} c={PCCC} a="middle">PCC</Txt>
        <Txt x={761} y={402.7} c={MAG} a="middle">treeClust</Txt>
        <Txt x={773.3} y={413.3} c={PCCC} a="middle">PCC</Txt>

        {/* h annotations */}
        <Txt x={63.3} y={486} c={ORANGE}>MAE 0.03</Txt>
        <Txt x={152} y={574} c={GRAYTXT} a="middle">true</Txt>
        <Txt x={152} y={582.7} c={GRAYTXT} a="middle">positive</Txt>
        <Txt x={228.3} y={486} c={ORANGE}>MAE 0.15</Txt>
        <Txt x={317.5} y={574} c={GRAYTXT} a="middle">false</Txt>
        <Txt x={317.5} y={582.7} c={GRAYTXT} a="middle">positive</Txt>

        {/* i legends */}
        <Txt x={567.8} y={492.7} c={MAG} a="middle">treeClust</Txt>
        <Txt x={567.8} y={504} c={RHOC} a="middle">rho</Txt>
        <Txt x={754.5} y={492.7} c={MAG} a="middle">treeClust</Txt>
        <Txt x={754.5} y={504} c={BIC} a="middle">bicor</Txt>
      </svg>
    </div>
  );
}
